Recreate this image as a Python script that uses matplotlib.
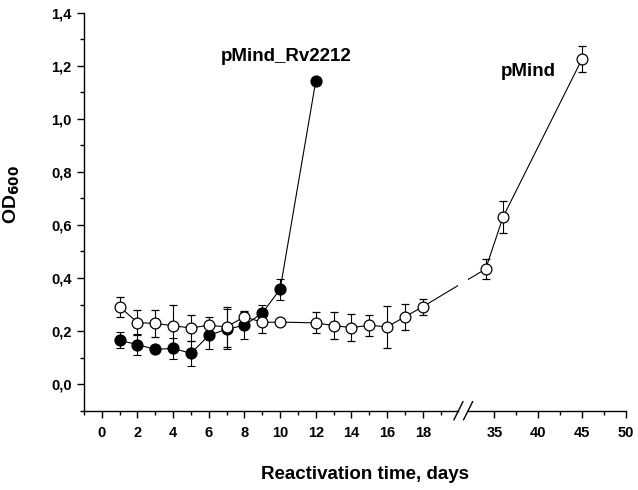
import numpy as np
import matplotlib
matplotlib.use('Agg')
import matplotlib.pyplot as plt
from matplotlib.ticker import FixedLocator, FuncFormatter

plt.rcParams['font.family'] = ['Liberation Sans', 'DejaVu Sans']
plt.rcParams['font.weight'] = 'bold'

# pMind_Rv2212 (filled)
days_rv = [1, 2, 3, 4, 5, 6, 7, 8, 9, 10, 12]
od_rv = [0.165, 0.149, 0.131, 0.135, 0.116, 0.184, 0.207, 0.222, 0.268, 0.358, 1.143]
err_rv = [0.03, 0.04, 0.015, 0.04, 0.048, 0.05, 0.075, 0.05, 0.03, 0.04, 0.0]

# pMind (open)
days_pm = [1, 2, 3, 4, 5, 6, 7, 8, 9, 10, 12, 13, 14, 15, 16, 17, 18, 34, 36, 45]
od_pm = [0.292, 0.232, 0.229, 0.22, 0.212, 0.222, 0.216, 0.254, 0.233, 0.234,
         0.231, 0.221, 0.213, 0.222, 0.216, 0.254, 0.292, 0.434, 0.631, 1.226]
err_pm = [0.038, 0.048, 0.05, 0.08, 0.05, 0.03, 0.075, 0.02, 0.04, 0.005,
          0.04, 0.05, 0.05, 0.04, 0.08, 0.05, 0.03, 0.039, 0.06, 0.049]

x_major = [0, 2, 4, 6, 8, 10, 12, 14, 16, 18, 35, 40, 45, 50]
x_minor = [-1, 1, 3, 5, 7, 9, 11, 13, 15, 17, 19, 37.5, 42.5, 47.5]

# broken x axis: 0..20 linear, squeezed gap, then 32..50 at half scale
B1, B2, GAP, R = 20.0, 32.0, 0.54, 0.492


def fwd(x):
    x = np.asarray(x, dtype=float)
    return np.where(x <= B1, x,
                    np.where(x >= B2, B1 + GAP + (x - B2) * R,
                             B1 + (x - B1) * GAP / (B2 - B1)))


def inv(s):
    s = np.asarray(s, dtype=float)
    return np.where(s <= B1, s,
                    np.where(s >= B1 + GAP, B2 + (s - B1 - GAP) / R,
                             B1 + (s - B1) * (B2 - B1) / GAP))


fig = plt.figure(figsize=(6.38, 4.9), dpi=100)
ax = fig.add_axes([84 / 638, 1 - 410.7 / 490, 542 / 638, 398 / 490])
ax.set_xscale('function', functions=(fwd, inv))

ax.errorbar(days_rv, od_rv, yerr=err_rv, fmt='o-', color='black', mfc='black',
            mec='black', ms=7.8, lw=0.8, elinewidth=0.8, capsize=3, capthick=0.8)
ax.errorbar(days_pm, od_pm, yerr=err_pm, fmt='o-', color='black', mfc='white',
            mec='black', ms=7.8, mew=0.9, lw=0.8, elinewidth=0.8, capsize=3, capthick=0.8)

ax.set_xlim(-1, 50)
ax.set_ylim(-0.1, 1.4)

# white gap across the break
ax.axvspan(B1, B2, ymin=0.0, ymax=1.0, color='white', zorder=2.3, lw=0)

ax.spines['top'].set_visible(False)
ax.spines['right'].set_visible(False)
ax.spines['bottom'].set_visible(False)
ax.spines['left'].set_linewidth(1)

# bottom axis drawn in two pieces with // marks
s0, s1 = fwd(-1), fwd(50)


def frac(x):
    return float((fwd(x) - s0) / (s1 - s0))


fl, fr = frac(B1), frac(B2)
ax.plot([0, fl], [0, 0], transform=ax.transAxes, color='black', lw=1, clip_on=False, zorder=3)
ax.plot([fr, 1], [0, 0], transform=ax.transAxes, color='black', lw=1, clip_on=False, zorder=3)
dx, dy = 4.5 / 542, 9 / 398
for f in (fl, fr):
    ax.plot([f - dx, f + dx], [-dy, dy], transform=ax.transAxes, color='black',
            lw=1, clip_on=False, zorder=3)

ax.xaxis.set_major_locator(FixedLocator(x_major))
ax.xaxis.set_minor_locator(FixedLocator(x_minor))
ax.xaxis.set_major_formatter(FuncFormatter(lambda v, p: '%d' % round(v)))
ax.yaxis.set_major_locator(FixedLocator(np.arange(0, 1.41, 0.2)))
ax.yaxis.set_minor_locator(FixedLocator(np.arange(-0.1, 1.4, 0.2)))
ax.yaxis.set_major_formatter(FuncFormatter(lambda v, p: ('%.1f' % v).replace('.', ',')))

ax.tick_params(which='major', direction='out', length=5, width=1, labelsize=10.5, pad=4)
ax.tick_params(axis='x', which='major', pad=6)
ax.tick_params(which='minor', direction='out', length=3, width=1)
for lab in ax.get_xticklabels() + ax.get_yticklabels():
    lab.set_fontweight('bold')

ax.set_xlabel('Reactivation time, days', fontsize=13.5, fontweight='bold')
ax.set_ylabel('OD$_{\\mathbf{600}}$', fontsize=14, fontweight='bold')
ax.xaxis.set_label_coords(0.518, -0.139)
ax.yaxis.set_label_coords(-0.114, 0.544)

ax.text(10.36, 1.234, 'pMind_Rv2212', ha='center', va='center', fontsize=13.5, fontweight='bold')
ax.text(38.87, 1.177, 'pMind', ha='center', va='center', fontsize=13.5, fontweight='bold')

fig.savefig('out.png', dpi=100)
